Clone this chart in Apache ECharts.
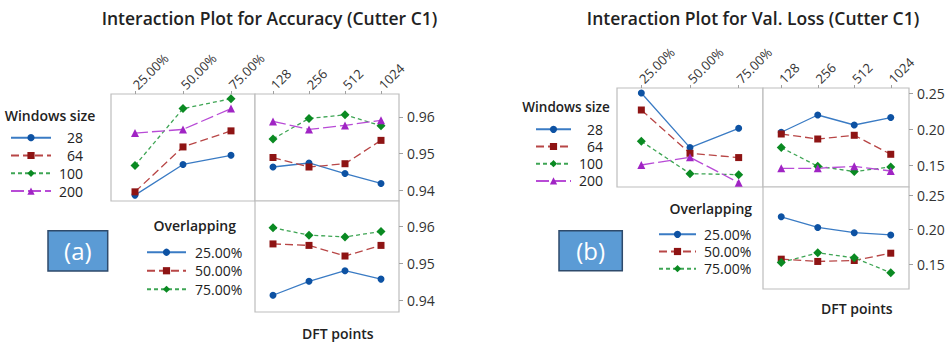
<!DOCTYPE html>
<html><head><meta charset="utf-8">
<script src="https://cdn.jsdelivr.net/npm/echarts@6/dist/echarts.min.js"></script>
<style>html,body{margin:0;padding:0;background:#fff}#c{width:948px;height:347px}</style>
</head><body><div id="c"></div>
<script>
// ---- categories / labels ----
const overlapCats = ['25.00%', '50.00%', '75.00%'];
const dftCats = ['128', '256', '512', '1024'];
const windowSizes = ['28', '64', '100', '200'];
const overlapNames = ['25.00%', '50.00%', '75.00%'];
const yTicksAcc = [0.94, 0.95, 0.96];
const yTicksLoss = [0.15, 0.20, 0.25];

// ---- Accuracy (a) ----
const accW28_ovl  = [0.9386, 0.9470, 0.9495];
const accW64_ovl  = [0.9395, 0.9518, 0.9562];
const accW100_ovl = [0.9467, 0.9623, 0.9650];
const accW200_ovl = [0.9556, 0.9566, 0.9623];
const accW28_dft  = [0.9463, 0.9474, 0.9445, 0.9418];
const accW64_dft  = [0.9489, 0.9463, 0.9472, 0.9536];
const accW100_dft = [0.9540, 0.9596, 0.9606, 0.9576];
const accW200_dft = [0.9588, 0.9566, 0.9577, 0.9591];
const accO25_dft  = [0.9413, 0.9451, 0.9480, 0.9457];
const accO50_dft  = [0.9553, 0.9549, 0.9520, 0.9549];
const accO75_dft  = [0.9597, 0.9577, 0.9572, 0.9587];

// ---- Val. Loss (b) ----
const lossW28_ovl  = [0.2508, 0.1744, 0.2014];
const lossW64_ovl  = [0.2270, 0.1664, 0.1604];
const lossW100_ovl = [0.1832, 0.1379, 0.1365];
const lossW200_ovl = [0.1500, 0.1608, 0.1253];
const lossW28_dft  = [0.1958, 0.2200, 0.2060, 0.2164];
const lossW64_dft  = [0.1934, 0.1864, 0.1916, 0.1650];
const lossW100_dft = [0.1744, 0.1482, 0.1408, 0.1472];
const lossW200_dft = [0.1454, 0.1454, 0.1482, 0.1416];
const lossO25_dft  = [0.2187, 0.2033, 0.1957, 0.1924];
const lossO50_dft  = [0.1572, 0.1539, 0.1553, 0.1659];
const lossO75_dft  = [0.1524, 0.1664, 0.1592, 0.1376];

const FONT = '"Open Sans", "Noto Sans", sans-serif';
const styles = [
  { symbol: 'circle',  size: 7, mk: '#0D52A3', ln: '#3A7BC4', type: 'solid' },
  { symbol: 'rect',    size: 7, mk: '#8E1414', ln: '#B84646', type: [8, 4] },
  { symbol: 'diamond', size: 9, mk: '#0A8A22', ln: '#3EA554', type: [4, 3] },
  { symbol: 'triangle',size: 8, mk: '#A024C4', ln: '#B84BD6', type: [13, 4] }
];

function ser(name, data, idx, st) {
  return {
    type: 'line', name: name, data: data, xAxisIndex: idx, yAxisIndex: idx,
    symbol: st.symbol, symbolSize: st.size, showSymbol: true,
    itemStyle: { color: st.mk },
    lineStyle: { color: st.ln, width: 1.3, type: st.type },
    emphasis: { disabled: true }, animation: false, z: 3
  };
}

const grids = [
  { left: 111, top: 94,  width: 144, height: 107 },
  { left: 255, top: 94,  width: 144, height: 107 },
  { left: 255, top: 201, width: 144, height: 111 },
  { left: 617, top: 88,  width: 146, height: 99 },
  { left: 763, top: 88,  width: 146, height: 99 },
  { left: 763, top: 187, width: 146, height: 102 }
].map(g => Object.assign({ show: true, borderColor: '#BDBDBD', borderWidth: 1.2, backgroundColor: '#fff' }, g));

function xAx(idx, cats, show) {
  return {
    type: 'category', gridIndex: idx, data: cats, position: 'top', boundaryGap: true,
    show: show,
    axisLine: { show: false },
    axisTick: { show: true, alignWithLabel: true, length: 3, lineStyle: { color: '#A0A0A0' } },
    axisLabel: { rotate: -45, margin: 7, fontSize: 13, color: '#333', fontFamily: FONT },
    splitLine: { show: false }
  };
}
function yAx(idx, min, max, ticks, show) {
  return {
    type: 'value', gridIndex: idx, min: min, max: max, position: 'right', show: show,
    axisLine: { show: false },
    axisTick: { show: true, length: 4, customValues: ticks, lineStyle: { color: '#A0A0A0' } },
    axisLabel: { customValues: ticks, margin: 8, fontSize: 14, color: '#333', fontFamily: FONT,
                 formatter: v => v.toFixed(2) },
    splitLine: { show: false }
  };
}

const xAxis = [
  xAx(0, overlapCats, true), xAx(1, dftCats, true), xAx(2, dftCats, false),
  xAx(3, overlapCats, true), xAx(4, dftCats, true), xAx(5, dftCats, false)
];
const yAxis = [
  yAx(0, 0.93699, 0.96630, yTicksAcc, false),
  yAx(1, 0.93699, 0.96630, yTicksAcc, true),
  yAx(2, 0.93673, 0.96701, yTicksAcc, true),
  yAx(3, 0.1192, 0.2578, yTicksLoss, false),
  yAx(4, 0.1192, 0.2578, yTicksLoss, true),
  yAx(5, 0.1139, 0.2620, yTicksLoss, true)
];

const accOvl = [accW28_ovl, accW64_ovl, accW100_ovl, accW200_ovl];
const accDft = [accW28_dft, accW64_dft, accW100_dft, accW200_dft];
const accOv = [accO25_dft, accO50_dft, accO75_dft];
const lossOvl = [lossW28_ovl, lossW64_ovl, lossW100_ovl, lossW200_ovl];
const lossDft = [lossW28_dft, lossW64_dft, lossW100_dft, lossW200_dft];
const lossOv = [lossO25_dft, lossO50_dft, lossO75_dft];

const series = [];
windowSizes.forEach((w, i) => {
  series.push(ser(w, accOvl[i], 0, styles[i]));
  series.push(ser(w, accDft[i], 1, styles[i]));
  series.push(ser(w, lossOvl[i], 3, styles[i]));
  series.push(ser(w, lossDft[i], 4, styles[i]));
});
overlapNames.forEach((o, i) => {
  series.push(ser(o, accOv[i], 2, styles[i]));
  series.push(ser(o, lossOv[i], 5, styles[i]));
});

function legend(names, left, top, iconW, lh, textW, align, padL) {
  return {
    orient: 'vertical', left: left, top: top, data: names, selectedMode: false,
    itemWidth: iconW, itemHeight: 9, itemGap: 0, padding: 0,
    formatter: '{n|{name}}',
    textStyle: { fontFamily: FONT, fontSize: 14, color: '#222', lineHeight: lh,
      rich: { n: { fontFamily: FONT, fontSize: 14, color: '#222', lineHeight: lh, width: textW, align: align, padding: [0, 0, 0, padL] } } }
  };
}
const legends = [
  legend(windowSizes, 10, 128.8, 40, 17.8, 27, 'right', 0),
  legend(overlapNames, 146, 243, 39, 18.5, 50, 'left', 4),
  legend(windowSizes, 535, 120.7, 35, 17.2, 27, 'right', 0),
  legend(overlapNames, 658, 225.7, 37, 17.2, 50, 'left', 3)
];

function txt(text, x, y, size, weight, color) {
  return { type: 'text', x: x, y: y, silent: true, z: 10,
    style: { text: text, x: 0, y: 0, align: 'center', verticalAlign: 'middle',
      fontFamily: FONT, fontSize: size, fontWeight: weight, fill: color || '#222' } };
}
function box(label, x, y, w, h) {
  return { type: 'group', x: x, y: y, silent: true, children: [
    { type: 'rect', shape: { x: 0, y: 0, width: w, height: h },
      style: { fill: '#5B9BD5', stroke: '#2E4A6B', lineWidth: 1.5 } },
    { type: 'text', x: w / 2, y: h / 2,
      style: { text: label, align: 'center', verticalAlign: 'middle', fontFamily: FONT, fontSize: 24, fill: '#fff' } }
  ]};
}
const graphic = [
  txt('Interaction Plot for Accuracy (Cutter C1)', 269.5, 18, 17.5, 600),
  txt('Interaction Plot for Val. Loss (Cutter C1)', 753, 18, 17.5, 600),
  txt('Windows size', 50, 115, 14, 600),
  txt('Windows size', 566, 106.7, 13.5, 600),
  txt('Overlapping', 194.7, 225, 14, 600),
  txt('Overlapping', 710.8, 208, 14, 600),
  txt('DFT points', 337.8, 333.5, 14, 600),
  txt('DFT points', 856.8, 308.5, 14, 600),
  box('(a)', 48, 230.7, 59.7, 40.3),
  box('(b)', 559, 230.7, 63.3, 40)
];

const chart = echarts.init(document.getElementById('c'), null, { renderer: 'svg' });
chart.setOption({
  backgroundColor: '#fff', animation: false,
  grid: grids, xAxis: xAxis, yAxis: yAxis, series: series, legend: legends, graphic: graphic,
  tooltip: { show: false }
});
</script></body></html>
